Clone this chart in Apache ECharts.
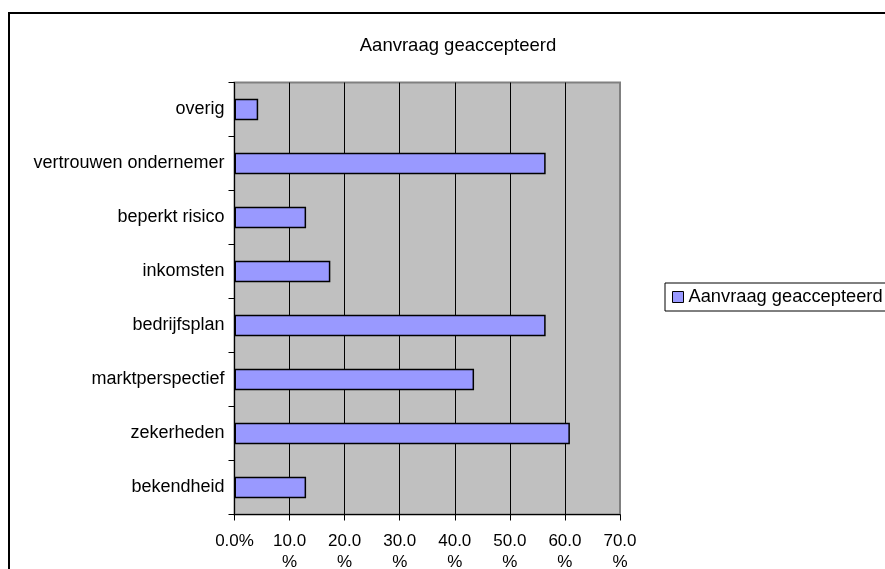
<!DOCTYPE html>
<html>
<head>
<meta charset="utf-8">
<script src="https://cdn.jsdelivr.net/npm/echarts@6/dist/echarts.min.js"></script>
<style>
  html, body { margin: 0; padding: 0; background: #fff; }
  #chart { width: 885px; height: 569px; }
</style>
</head>
<body>
<div id="chart"></div>
<script>
// Reasons for an accepted application (% of respondents), bottom to top
const categories = ['bekendheid', 'zekerheden', 'marktperspectief', 'bedrijfsplan',
                    'inkomsten', 'beperkt risico', 'vertrouwen ondernemer', 'overig'];
const values = [13.0, 60.9, 43.5, 56.5, 17.4, 13.0, 56.5, 4.3];
const seriesName = 'Aanvraag geaccepteerd';
const axisMin = 0, axisMax = 70, axisStep = 10;

const FONT = '"Liberation Sans", Arial, sans-serif';
const chart = echarts.init(document.getElementById('chart'), null, { renderer: 'canvas' });

chart.setOption({
  backgroundColor: '#ffffff',
  animation: false,
  textStyle: { fontFamily: FONT, color: '#000' },
  title: {
    text: seriesName,
    left: 453, top: 31, textAlign: 'center',
    textStyle: { fontFamily: FONT, fontSize: 18.5, fontWeight: 'normal', color: '#000' }
  },
  legend: {
    left: 665, top: 283,
    orient: 'vertical',
    padding: [5, 30, 5, 7],
    itemWidth: 11, itemHeight: 11, itemGap: 5,
    borderColor: '#000', borderWidth: 1, backgroundColor: '#fff',
    icon: 'rect',
    textStyle: { fontFamily: FONT, fontSize: 18.3, color: '#000', padding: [0, 0, 0, 0] },
    data: [{ name: seriesName, itemStyle: { color: '#9999FF', borderColor: '#000', borderWidth: 1 } }]
  },
  graphic: [{
    type: 'rect', silent: true, z: 100,
    shape: { x: 9, y: 13, width: 1000, height: 1000 },
    style: { fill: null, stroke: '#000', lineWidth: 2 }
  }],
  grid: {
    left: 234.5, right: 265, top: 82.5, bottom: 54.5,
    outerBoundsMode: 'none',
    show: true, backgroundColor: '#C0C0C0', borderColor: '#808080', borderWidth: 2
  },
  xAxis: {
    type: 'value', min: axisMin, max: axisMax, interval: axisStep,
    axisLine: { show: true, lineStyle: { color: '#000', width: 1 } },
    axisTick: { show: true, length: 6, lineStyle: { color: '#000' } },
    splitLine: { show: true, lineStyle: { color: ['#000', '#000', '#000', '#000', '#000', '#000', '#000', '#808080'], width: 1 } },
    axisLabel: {
      margin: 16, fontFamily: FONT, fontSize: 17, color: '#000', lineHeight: 21,
      formatter: v => v === 0 ? '0.0%' : v.toFixed(1) + '\n%'
    }
  },
  yAxis: {
    type: 'category', data: categories,
    axisLine: { show: true, lineStyle: { color: '#000', width: 1 } },
    axisTick: { show: true, length: 6, lineStyle: { color: '#000' } },
    splitLine: { show: false },
    axisLabel: { margin: 10, fontFamily: FONT, fontSize: 18, color: '#000' }
  },
  series: [{
    name: seriesName, type: 'bar', data: values, barWidth: '40%',
    itemStyle: { color: '#9999FF', borderColor: '#000', borderWidth: 1.5 }
  }]
});
</script>
</body>
</html>
